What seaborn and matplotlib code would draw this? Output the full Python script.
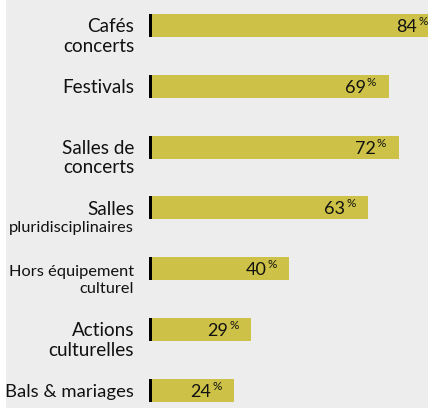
import matplotlib
matplotlib.use("Agg")
import matplotlib.pyplot as plt
import seaborn as sns
import pandas as pd
from matplotlib.patches import Rectangle

# Share of respondents per venue type (%)
categories = [
    "Cafés\nconcerts",
    "Festivals",
    "Salles de\nconcerts",
    "Salles\npluridisciplinaires",
    "Hors équipement\nculturel",
    "Actions\nculturelles",
    "Bals & mariages",
]
values = [84, 69, 72, 63, 40, 29, 24]
small_lines = {"pluridisciplinaires", "Hors équipement", "culturel"}

BG = "#ededed"
BAR = "#cdc247"
W, H = 428, 408

sns.set_theme(style="white")
plt.rcParams["font.family"] = ["Lato", "DejaVu Sans"]

fig = plt.figure(figsize=(W / 100, H / 100), dpi=100, facecolor=BG)
fig.patches.append(Rectangle((0, 0), 6 / W, 1, transform=fig.transFigure,
                             facecolor="white", edgecolor="none", zorder=-1))

px_per_unit = 3.43        # pixels per percentage point
tick_w = 3 / px_per_unit  # black marker at the base of each bar
step = 60.8               # pixels between bar centres
first = 25.5              # centre of first bar from top, pixels
bar_h = 23 / step

ax = fig.add_axes([149 / W, 0, (W - 149) / W, 1])
ax.set_facecolor("none")

df = pd.DataFrame({"category": categories, "value": values})
sns.barplot(data=df, x="value", y="category", orient="h", color=BAR,
            saturation=1, width=bar_h, linewidth=0, edgecolor="none",
            ax=ax, zorder=2)
ax.barh(range(len(categories)), [tick_w] * len(categories), left=-tick_w,
        height=bar_h, color="black", linewidth=0, zorder=3)

ax.set_xlim(-tick_w, (W - 152) / px_per_unit)
top = -first / step
ax.set_ylim(top + H / step, top)
for s in ax.spines.values():
    s.set_visible(False)
ax.set_xticks([])
ax.set_yticks([])
ax.set_xlabel("")
ax.set_ylabel("")

ytrans = ax.get_yaxis_transform()
for i, cat in enumerate(categories):
    dy = -7.0
    for k, line in enumerate(cat.split("\n")):
        small = line in small_lines
        if k > 0:
            dy -= 17.5 if small else 19
        size = 11.8 if small else 13.6
        if line == "Bals & mariages":
            size = 13.3
        ax.annotate(line, xy=(0, i), xycoords=ytrans, xytext=(-15, dy),
                    textcoords="offset pixels", ha="right", va="baseline",
                    fontsize=size, color="#111111", annotation_clip=False)

for i, v in enumerate(values):
    ax.annotate(f"{v}", xy=(v, i), xytext=(-23, -6.5),
                textcoords="offset pixels", ha="right", va="baseline",
                fontsize=13, color="#111111", annotation_clip=False, zorder=4)
    ax.annotate("%", xy=(v, i), xytext=(-22, 9.5),
                textcoords="offset pixels", ha="left", va="top",
                fontsize=8.5, color="#111111", annotation_clip=False, zorder=4)

fig.savefig("out.png", dpi=100, facecolor=fig.get_facecolor())
